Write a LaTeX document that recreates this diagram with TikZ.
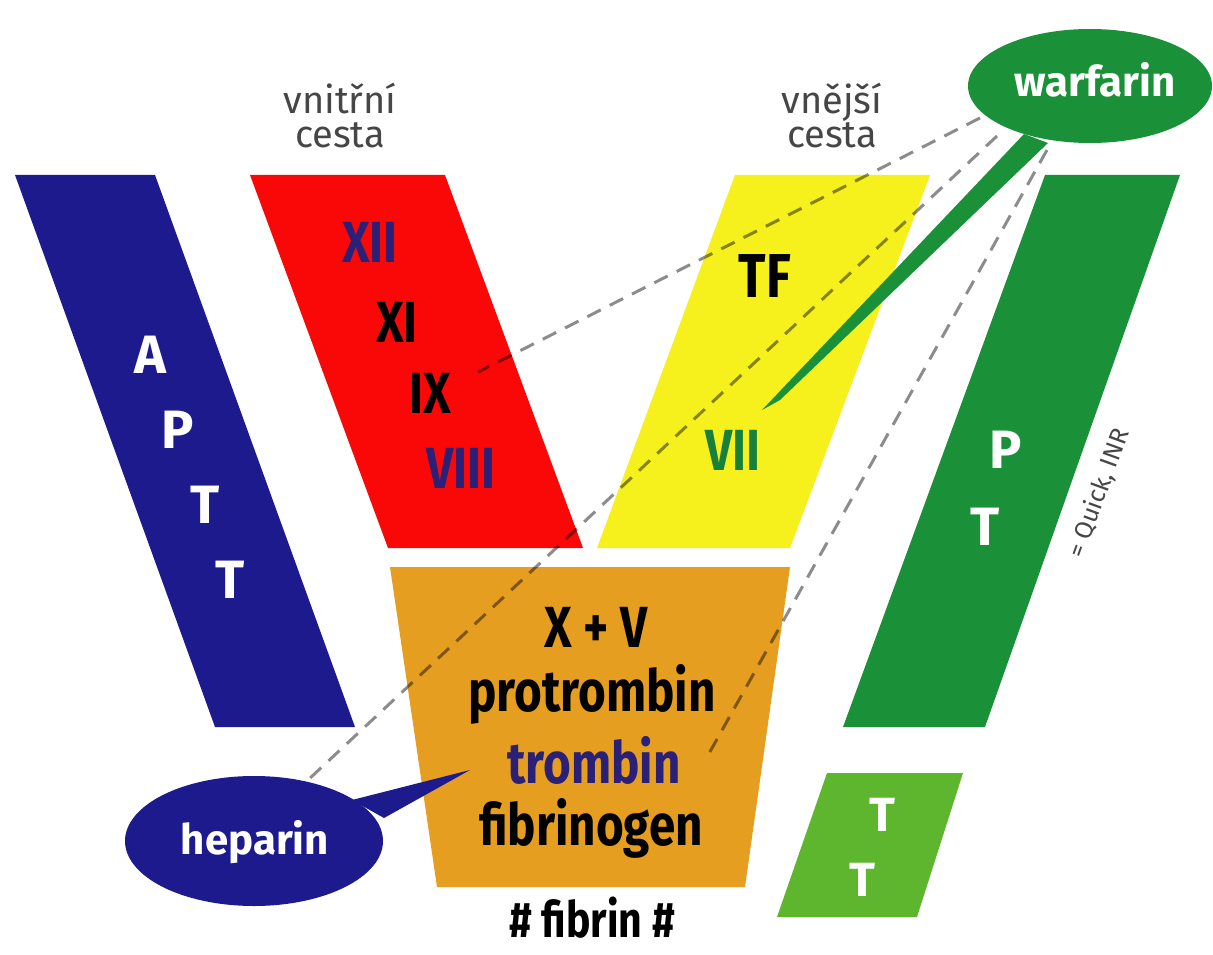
\documentclass[tikz,border=0pt]{standalone}
\usepackage{fontspec}
\setmainfont{Fira Sans}
\newfontfamily\cond[FakeStretch=0.82]{Fira Sans}
\definecolor{cblue}{RGB}{28,26,140}
\definecolor{cred}{RGB}{250,8,8}
\definecolor{cyellow}{RGB}{246,240,28}
\definecolor{cgreen}{RGB}{26,145,56}
\definecolor{corange}{RGB}{230,158,32}
\definecolor{cltgreen}{RGB}{94,182,46}
\definecolor{navytext}{RGB}{42,32,120}
\definecolor{greentext}{RGB}{22,128,60}
\definecolor{labelgray}{RGB}{70,70,70}
\tikzset{
  dashline/.style={black, opacity=0.45, line width=3pt, dash pattern=on 15pt off 10pt},
  wlabel/.style={text=white, font=\fontsize{54}{58}\selectfont\bfseries, inner sep=0pt},
  numlabel/.style={font=\fontsize{58}{62}\selectfont\cond\bfseries, inner sep=0pt},
  boxlabel/.style={font=\fontsize{58}{62}\selectfont\cond\bfseries, inner sep=0pt},
  pathlabel/.style={text=labelgray, font=\fontsize{38}{40}\selectfont, align=center, inner sep=0pt},
  drug/.style={text=white, font=\fontsize{42}{46}\selectfont\bfseries, inner sep=0pt}
}
\begin{document}
\begin{tikzpicture}[x=1pt,y=-1pt]
\useasboundingbox (0,0) rectangle (1213,955);
\fill[white] (0,0) rectangle (1213,955);

% bands
\fill[cblue]   (15,175) -- (155,175) -- (355,727) -- (215,727) -- cycle;
\fill[cred]    (250,175) -- (445,175) -- (583,548) -- (388,548) -- cycle;
\fill[cyellow] (735,175) -- (930,175) -- (790,548) -- (597,548) -- cycle;
\fill[cgreen]  (1045,175) -- (1180,175) -- (985,727) -- (843,727) -- cycle;
\fill[corange] (390,567) -- (790,567) -- (745,887) -- (437,887) -- cycle;
\fill[cltgreen] (827,773) -- (963,773) -- (917,917) -- (777,917) -- cycle;

% anchor coordinates
\coordinate (wA) at (980,118);
\coordinate (wB) at (997,136);
\coordinate (wC) at (1047,150);
\coordinate (ixend) at (478,372);
\coordinate (hepend) at (308,780);
\coordinate (trend) at (707,757);

% dashed connectors
\draw[dashline] (wA) -- (ixend);
\draw[dashline] (wB) -- (hepend);
\draw[dashline] (wC) -- (trend);

% drug bubbles
\fill[cgreen] (1024,134) -- (1048,143) -- (780,400) -- (762,410) -- cycle;
\fill[cgreen] (1090,86) ellipse [x radius=122, y radius=57];
\fill[cblue] (352,800) -- (384,818) -- (470,770) -- cycle;
\fill[cblue] (254,841) ellipse [x radius=129, y radius=65];

\node[drug] (warfarin) at (1095,80) {warfarin};
\node[drug] (heparin) at (255,842) {heparin};

% top labels
\node[pathlabel] (vnitrni) at (340,116) {vnitřní\\[-6pt]cesta};
\node[pathlabel] (vnejsi) at (832,116) {vnější\\[-6pt]cesta};

% APTT
\node[wlabel] (A1) at (150,355) {A};
\node[wlabel] (P1) at (178,430) {P};
\node[wlabel] (T1) at (205,505) {T};
\node[wlabel] (T2) at (230,580) {T};

% intrinsic factors
\node[numlabel, text=navytext] (XII) at (370,242) {XII};
\node[numlabel] (XI) at (397,322) {XI};
\node[numlabel] (IX) at (430,393) {IX};
\node[numlabel, text=navytext] (VIII) at (461,468) {VIII};

% extrinsic
\node[numlabel, font=\fontsize{62}{66}\selectfont\cond\bfseries] (TF) at (765,276) {TF};
\node[numlabel, text=greentext] (VII) at (733,450) {VII};

% PT
\node[wlabel] (P2) at (1006,450) {P};
\node[wlabel] (T3) at (985,527) {T};
\node[text=labelgray, font=\fontsize{25}{26}\selectfont, rotate=70, inner sep=0pt] (quick) at (1099,493) {= Quick, INR};

% common pathway
\node[boxlabel] (XV) at (596,627) {X + V};
\node[boxlabel] (protrombin) at (592,694) {protrombin};
\node[boxlabel, text=navytext] (trombin) at (594,760) {trombin};
\node[boxlabel] (fibrinogen) at (591,828) {fibrinogen};
\node[boxlabel, font=\fontsize{50}{54}\selectfont\cond\bfseries] (fibrin) at (592,918) {\# fibrin \#};

% TT
\node[wlabel, font=\fontsize{48}{52}\selectfont\bfseries] (T4) at (882,815) {T};
\node[wlabel, font=\fontsize{48}{52}\selectfont\bfseries] (T5) at (862,880) {T};
\end{tikzpicture}
\end{document}
